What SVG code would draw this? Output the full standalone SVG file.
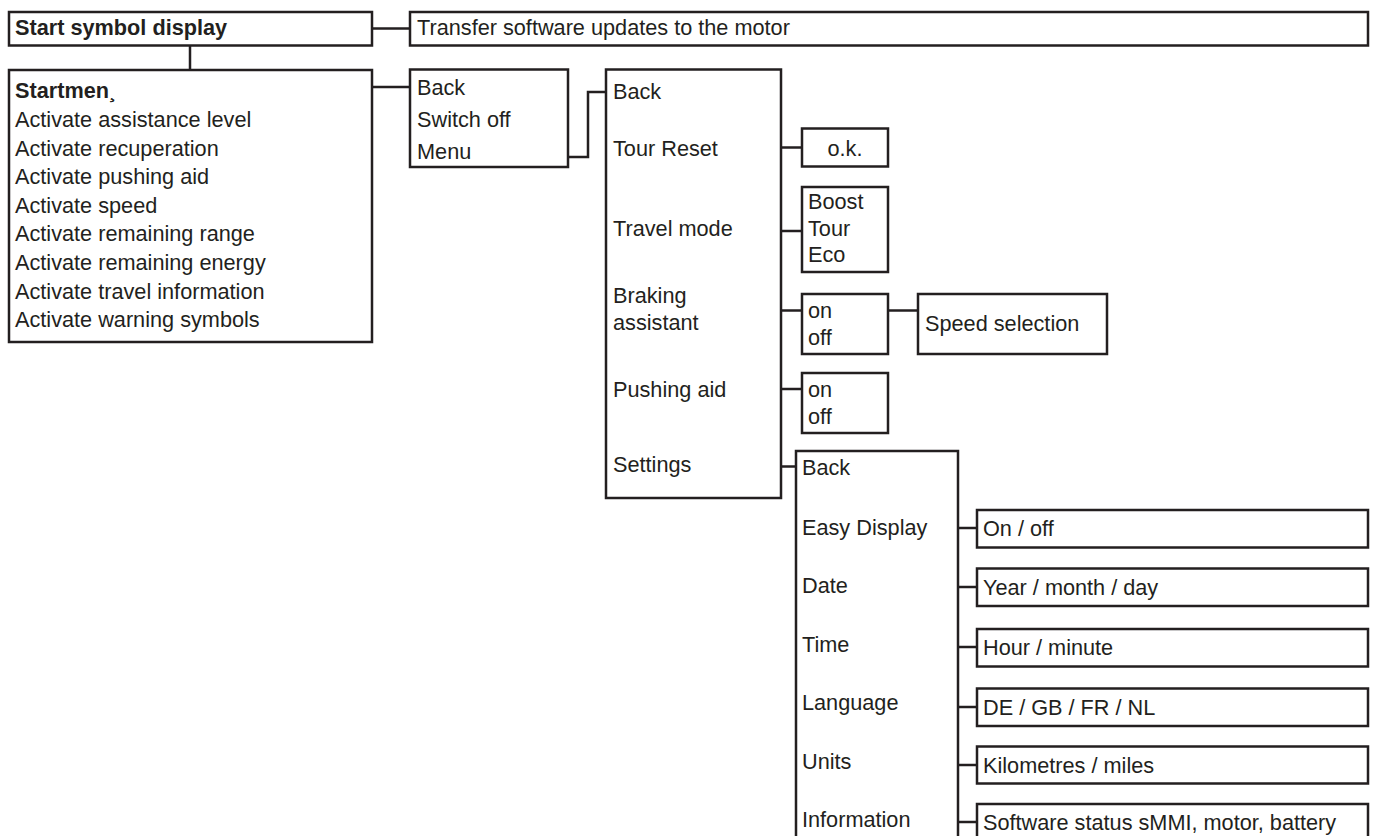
<svg xmlns="http://www.w3.org/2000/svg" width="1375" height="836" viewBox="0 0 1375 836">
<style>
rect{fill:#fff;stroke:#231f20;stroke-width:2.5}
.c line,.c polyline{fill:none;stroke:#231f20;stroke-width:2.5}
text{font-family:"Liberation Sans",Arial,sans-serif;font-size:21.7px;fill:#231f20}
.b{font-weight:bold}
</style>
<rect x="0" y="0" width="1375" height="836" style="stroke:none"/>
<g class="c" id="connectors">
<line x1="372" y1="28.5" x2="410" y2="28.5"/>
<line x1="190" y1="45.5" x2="190" y2="70"/>
<line x1="372" y1="87" x2="410" y2="87"/>
<polyline points="568,157 588,157 588,92 606,92"/>
<line x1="781" y1="147.5" x2="802" y2="147.5"/>
<line x1="781" y1="231" x2="802" y2="231"/>
<line x1="781" y1="310.5" x2="802" y2="310.5"/>
<line x1="888" y1="310.5" x2="918" y2="310.5"/>
<line x1="781" y1="389" x2="802" y2="389"/>
<line x1="781" y1="466.5" x2="796" y2="466.5"/>
<line x1="958" y1="528" x2="977" y2="528"/>
<line x1="958" y1="587" x2="977" y2="587"/>
<line x1="958" y1="647" x2="977" y2="647"/>
<line x1="958" y1="707" x2="977" y2="707"/>
<line x1="958" y1="765" x2="977" y2="765"/>
<line x1="958" y1="822" x2="977" y2="822"/>
</g>
<g id="n-start">
<rect x="9" y="12" width="363" height="33.5"/>
<text x="15" y="34.5" class="b">Start symbol display</text>
</g>
<g id="n-transfer">
<rect x="410" y="12" width="958" height="33.5"/>
<text x="417" y="34.5">Transfer software updates to the motor</text>
</g>
<g id="n-startmenu">
<rect x="9" y="70" width="363" height="272"/>
<text x="15" y="98" class="b">Startmen¸</text>
<text x="15" y="127">Activate assistance level</text>
<text x="15" y="155.6">Activate recuperation</text>
<text x="15" y="184.2">Activate pushing aid</text>
<text x="15" y="212.8">Activate speed</text>
<text x="15" y="241.4">Activate remaining range</text>
<text x="15" y="270">Activate remaining energy</text>
<text x="15" y="298.6">Activate travel information</text>
<text x="15" y="327.2">Activate warning symbols</text>
</g>
<g id="n-back">
<rect x="410" y="69.5" width="158" height="97.5"/>
<text x="417" y="95">Back</text>
<text x="417" y="127">Switch off</text>
<text x="417" y="159">Menu</text>
</g>
<g id="n-menu">
<rect x="606" y="69.5" width="175" height="428.5"/>
<text x="613" y="98.5">Back</text>
<text x="613" y="156">Tour Reset</text>
<text x="613" y="236">Travel mode</text>
<text x="613" y="303">Braking</text>
<text x="613" y="330">assistant</text>
<text x="613" y="396.5">Pushing aid</text>
<text x="613" y="472">Settings</text>
</g>
<g id="n-ok">
<rect x="802" y="128.5" width="86" height="38"/>
<text x="845" y="155.5" text-anchor="middle">o.k.</text>
</g>
<g id="n-mode">
<rect x="802" y="187" width="86" height="85"/>
<text x="808" y="208.5">Boost</text>
<text x="808" y="236">Tour</text>
<text x="808" y="262">Eco</text>
</g>
<g id="n-brake">
<rect x="802" y="294" width="86" height="60"/>
<text x="808" y="317.5">on</text>
<text x="808" y="344.5">off</text>
</g>
<g id="n-speed">
<rect x="918" y="294" width="189" height="60"/>
<text x="925" y="331">Speed selection</text>
</g>
<g id="n-push">
<rect x="802" y="373" width="86" height="60"/>
<text x="808" y="397">on</text>
<text x="808" y="424">off</text>
</g>
<g id="n-settings">
<rect x="796" y="451" width="162" height="400"/>
<text x="802" y="475">Back</text>
<text x="802" y="535">Easy Display</text>
<text x="802" y="593">Date</text>
<text x="802" y="652">Time</text>
<text x="802" y="710">Language</text>
<text x="802" y="769">Units</text>
<text x="802" y="827">Information</text>
</g>
<g id="n-easy">
<rect x="977" y="510" width="391" height="37.5"/>
<text x="983" y="536">On / off</text>
</g>
<g id="n-date">
<rect x="977" y="568.5" width="391" height="37.5"/>
<text x="983" y="595">Year / month / day</text>
</g>
<g id="n-time">
<rect x="977" y="629" width="391" height="37.5"/>
<text x="983" y="655">Hour / minute</text>
</g>
<g id="n-lang">
<rect x="977" y="688.5" width="391" height="37.5"/>
<text x="983" y="715">DE / GB / FR / NL</text>
</g>
<g id="n-units">
<rect x="977" y="746.5" width="391" height="37"/>
<text x="983" y="773">Kilometres / miles</text>
</g>
<g id="n-info">
<rect x="977" y="804" width="391" height="50"/>
<text x="983" y="830">Software status sMMI, motor, battery</text>
</g>
</svg>
